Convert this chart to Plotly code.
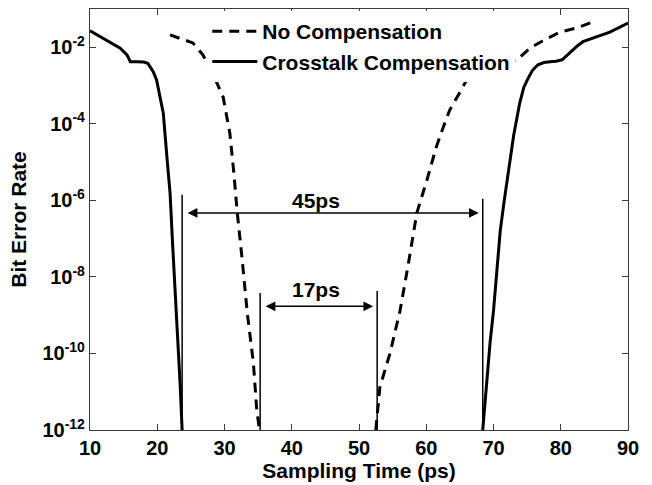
import math
import plotly.graph_objects as go

# Bit error rate versus sampling time: falling (left) and rising (right) edges
comp_fall_time = [10, 11.5, 13, 14.5, 15.5, 16, 17, 18, 18.6, 19.4, 19.9, 20.4,
                  20.9, 21.5, 21.9, 22.3, 22.6, 23.0, 23.4, 23.7]
comp_fall_ber = [2.7e-2, 1.9e-2, 1.4e-2, 9.5e-3, 6.3e-3, 4.2e-3, 4.2e-3, 4.1e-3,
                 3.8e-3, 2.3e-3, 1.4e-3, 5.0e-4, 1.9e-4, 1.0e-5, 1.6e-6, 6.3e-8,
                 7.9e-9, 4.0e-10, 1.6e-11, 1e-12]
comp_rise_time = [68.4, 69.0, 69.5, 70.0, 70.5, 71.0, 71.6, 72.2, 73.0, 73.9, 74.5,
                  75.1, 75.8, 76.6, 77.5, 78.4, 79.3, 80.2, 81.0, 81.7, 82.5, 83.3,
                  85.4, 87.3, 90]
comp_rise_ber = [1e-12, 2.0e-11, 2.0e-10, 1.3e-9, 1.6e-8, 1.6e-7, 1.0e-6, 5.0e-6,
                 5.0e-5, 3.5e-4, 8.9e-4, 1.5e-3, 2.5e-3, 3.5e-3, 4.0e-3, 4.2e-3,
                 4.3e-3, 4.7e-3, 6.3e-3, 8.5e-3, 1.1e-2, 1.4e-2, 1.9e-2, 2.5e-2,
                 4.3e-2]

nocomp_fall_time = [21.9, 23.4, 25.3, 26.8, 27.5, 28.4, 29.8, 30.8, 31.4, 31.9,
                    32.6, 33.4, 34.3, 34.8, 35.2]
nocomp_fall_ber = [2.1e-2, 1.7e-2, 1.3e-2, 6.3e-3, 3.5e-3, 1.8e-3, 5.0e-4, 5.6e-5,
                   5.0e-6, 4.7e-7, 3.2e-8, 1.1e-9, 5.6e-11, 3.3e-12, 1e-12]
nocomp_rise_time = [52.5, 53.1, 54.6, 56.1, 57.3, 58.6, 60.1, 61.5, 62.5, 63.5,
                    64.6, 66.2, 68.0, 70.0, 72.0, 73.5, 75.4, 77.4, 79.9, 82.4, 84.8]
nocomp_rise_ber = [1e-12, 1.3e-11, 1.0e-10, 1.3e-9, 2.0e-8, 4.7e-7, 3.4e-6, 2.5e-5,
                   7.9e-5, 2.3e-4, 5.0e-4, 1.6e-3, 2.8e-3, 3.5e-3, 4.2e-3, 4.7e-3,
                   9.5e-3, 1.5e-2, 2.5e-2, 3.2e-2, 4.6e-2]

# Timing windows (edges in ps), marker heights and arrow heights
window_edges = [[23.7, 68.4], [35.3, 52.7]]
window_tops = [[1.4e-6, 1.1e-6], [3.8e-9, 4.3e-9]]
window_arrow_ber = [4.7e-7, 1.7e-9]
window_label_x = [43.6, 43.6]
window_label_ber = [1.0e-6, 4.6e-9]

y_tick_vals = [1e-12, 1e-10, 1e-8, 1e-6, 1e-4, 1e-2]
y_tick_text = ["10<sup>-12</sup>", "10<sup>-10</sup>", "10<sup>-8</sup>",
               "10<sup>-6</sup>", "10<sup>-4</sup>", "10<sup>-2</sup>"]
x_tick_vals = [10, 20, 30, 40, 50, 60, 70, 80, 90]

FONT = "Liberation Sans"
AXIS_COLOR = "#3a3a3a"
TICK_SIZE = 20
TEXT_SIZE = 21


def bold(size):
    return dict(family=FONT, size=size, color="black", weight="bold")


fig = go.Figure()

fig.add_trace(go.Scatter(
    x=nocomp_fall_time + [None] + nocomp_rise_time,
    y=nocomp_fall_ber + [None] + nocomp_rise_ber,
    mode="lines", name="No Compensation", connectgaps=False,
    line=dict(color="black", width=3, dash="10px,7px"),
))
fig.add_trace(go.Scatter(
    x=comp_fall_time + [None] + comp_rise_time,
    y=comp_fall_ber + [None] + comp_rise_ber,
    mode="lines", name="Crosstalk Compensation", connectgaps=False,
    line=dict(color="black", width=3),
))

annotations = []
for edges, tops, arrow_y, lx, ly in zip(window_edges, window_tops,
                                        window_arrow_ber, window_label_x,
                                        window_label_ber):
    for e, t in zip(edges, tops):
        fig.add_trace(go.Scatter(
            x=[e, e], y=[1e-12, t], mode="lines", showlegend=False,
            line=dict(color="black", width=1.5), hoverinfo="skip",
        ))
    ay = math.log10(arrow_y)
    annotations.append(dict(
        x=edges[1], y=ay, ax=edges[0], ay=ay, xref="x", yref="y",
        axref="x", ayref="y", text="", showarrow=True,
        arrowhead=2, arrowside="end+start", arrowsize=1.3, arrowwidth=1.5,
        arrowcolor="black", standoff=4, startstandoff=4,
    ))
    annotations.append(dict(
        x=lx, y=math.log10(ly), xref="x", yref="y",
        text="%dps" % round(edges[1] - edges[0]), showarrow=False,
        font=bold(TEXT_SIZE),
    ))

fig.update_layout(
    width=652, height=485,
    margin=dict(l=90, r=24, t=9, b=55),
    paper_bgcolor="white", plot_bgcolor="white",
    font=bold(TICK_SIZE),
    showlegend=True,
    legend=dict(
        x=0.218, y=0.995, xanchor="left", yanchor="top",
        bgcolor="white", borderwidth=0, itemwidth=45,
        font=bold(TEXT_SIZE), tracegroupgap=0,
    ),
    annotations=annotations,
)

fig.update_xaxes(
    range=[10, 90], tickvals=x_tick_vals,
    ticks="inside", ticklen=6, tickcolor=AXIS_COLOR, tickwidth=1,
    showline=True, linecolor=AXIS_COLOR, linewidth=1.2, mirror="allticks",
    showgrid=False, zeroline=False,
    tickfont=bold(TICK_SIZE),
    title=dict(text="Sampling Time (ps)", standoff=0, font=bold(TEXT_SIZE)),
)
fig.update_yaxes(
    type="log", range=[-12, -1], tickvals=y_tick_vals, ticktext=y_tick_text,
    ticks="inside", ticklen=6, tickcolor=AXIS_COLOR, tickwidth=1,
    showline=True, linecolor=AXIS_COLOR, linewidth=1.2, mirror="allticks",
    showgrid=False, zeroline=False,
    tickfont=bold(TICK_SIZE),
    title=dict(text="Bit Error Rate", standoff=10, font=bold(TEXT_SIZE)),
)

fig.write_html("out.html")
